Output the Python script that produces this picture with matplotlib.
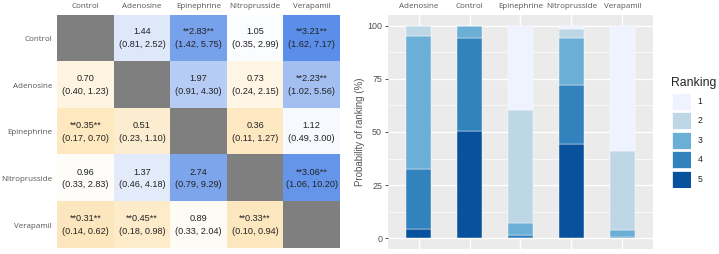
import numpy as np
import matplotlib
matplotlib.use("Agg")
import matplotlib.pyplot as plt
from matplotlib.colors import LinearSegmentedColormap, TwoSlopeNorm
from matplotlib.patches import Rectangle

# ---- heatmap data (row treatment vs column treatment) ----
treatments = ['Control', 'Adenosine', 'Epinephrine', 'Nitroprusside', 'Verapamil']
est = [[np.nan, 1.44, 2.83, 1.05, 3.21],
       [0.70, np.nan, 1.97, 0.73, 2.23],
       [0.35, 0.51, np.nan, 0.36, 1.12],
       [0.96, 1.37, 2.74, np.nan, 3.06],
       [0.31, 0.45, 0.89, 0.33, np.nan]]
lower = [[np.nan, 0.81, 1.42, 0.35, 1.62],
         [0.40, np.nan, 0.91, 0.24, 1.02],
         [0.17, 0.23, np.nan, 0.11, 0.49],
         [0.33, 0.46, 0.79, np.nan, 1.06],
         [0.14, 0.18, 0.33, 0.10, np.nan]]
upper = [[np.nan, 2.52, 5.75, 2.99, 7.17],
         [1.23, np.nan, 4.30, 2.15, 5.56],
         [0.70, 1.10, np.nan, 1.27, 3.00],
         [2.83, 4.18, 9.29, np.nan, 10.20],
         [0.62, 0.98, 2.04, 0.94, np.nan]]

# ---- ranking probabilities (%) ----
bar_drugs = ['Adenosine', 'Control', 'Epinephrine', 'Nitroprusside', 'Verapamil']
rank_labels = ['1', '2', '3', '4', '5']
rank1 = [0.2, 0.0, 39.5, 1.6, 58.8]
rank2 = [4.6, 0.0, 53.5, 4.2, 37.5]
rank3 = [62.7, 5.9, 5.6, 22.3, 3.2]
rank4 = [28.0, 43.5, 1.1, 27.4, 0.3]
rank5 = [4.5, 50.6, 0.3, 44.5, 0.2]
rank_colors = ['#EFF3FF', '#BDD7E7', '#6BAED6', '#3182BD', '#08519C']

label_font = 'Open Sans'
num_font = 'Liberation Sans'
W, H = 719, 254

fig = plt.figure(figsize=(7.19, 2.54), dpi=100)

# ---------------- heatmap ----------------
ax1 = fig.add_axes([0.0793, 0.0217, 0.3936, 0.9193])
E = np.array(est)
cmap = LinearSegmentedColormap.from_list('or', ['#FCDCA0', '#FFFFFF', '#5B8EE8'])
cmap.set_bad('#7F7F7F')
norm = TwoSlopeNorm(vmin=0.0, vcenter=1.0, vmax=3.21)
ax1.imshow(np.ma.masked_invalid(E), cmap=cmap, norm=norm, aspect='auto')
n = len(treatments)
for i in range(n):
    for j in range(n):
        if np.isnan(E[i, j]):
            continue
        sig = lower[i][j] > 1 or upper[i][j] < 1
        s = f'{est[i][j]:.2f}'
        if sig:
            s = '**' + s + '**'
        txt = s + '\n' + f'({lower[i][j]:.2f}, {upper[i][j]:.2f})'
        ax1.text(j, i, txt, ha='center', va='center', fontsize=6.6,
                 family=num_font, color='#222222', linespacing=1.55)
ax1.set_xticks(range(n))
ax1.set_xticklabels(treatments, family=label_font, fontsize=5.8, color='#555555')
ax1.set_yticks(range(n))
ax1.set_yticklabels(treatments, family=label_font, fontsize=5.8, color='#555555')
ax1.xaxis.tick_top()
ax1.tick_params(length=0, pad=3.5)
for sp in ax1.spines.values():
    sp.set_visible(False)

# ---------------- stacked bars ----------------
ax2 = fig.add_axes([0.5396, 0.0197, 0.3686, 0.9213])
ax2.set_facecolor('#EBEBEB')
x = np.arange(1, len(bar_drugs) + 1)
stack = [rank5, rank4, rank3, rank2, rank1]
stack_cols = rank_colors[::-1]
bottom = np.zeros(len(bar_drugs))
for vals, col in zip(stack, stack_cols):
    ax2.bar(x, vals, width=0.5, bottom=bottom, color=col, edgecolor='white',
            linewidth=0.3, zorder=3)
    bottom += np.array(vals)
ax2.set_xlim(0.4, 5.6)
ax2.set_ylim(-5, 105)
ax2.set_yticks([0, 25, 50, 75, 100])
ax2.set_yticks([12.5, 37.5, 62.5, 87.5], minor=True)
ax2.set_xticks(x)
ax2.set_xticklabels(bar_drugs, family=label_font, fontsize=5.8, color='#555555')
ax2.xaxis.tick_top()
ax2.tick_params(axis='x', length=0, pad=3.5)
ax2.tick_params(axis='y', which='major', length=2.2, width=0.6, color='#333333',
                labelsize=6.4, labelcolor='#4D4D4D', pad=2)
ax2.tick_params(axis='y', which='minor', length=0)
for lab in ax2.get_yticklabels():
    lab.set_family(num_font)
ax2.grid(which='major', color='white', linewidth=1.0, zorder=0)
ax2.grid(which='minor', axis='y', color='white', linewidth=0.5, zorder=0)
ax2.set_axisbelow(True)
for sp in ax2.spines.values():
    sp.set_visible(False)
ax2.set_ylabel('Probability of ranking (%)', family=num_font, fontsize=7,
               color='#555555')
ax2.yaxis.set_label_coords(-0.088, 0.5)

# ---------------- legend ----------------
lax = fig.add_axes([672 / W, 1 - 188 / H, 19 / W, 95 / H])
lax.set_xlim(0, 1)
lax.set_ylim(95, 0)
lax.axis('off')
for k, (lab, col) in enumerate(zip(rank_labels, rank_colors)):
    y0 = k * 19.45
    lax.add_patch(Rectangle((0, y0), 1, 17, facecolor=col, edgecolor='white',
                            linewidth=0.5))
    lax.text(1.35, y0 + 8.5, lab, ha='left', va='center', fontsize=6.2,
             family=num_font, color='#222222')
fig.text(671 / W, 1 - 83 / H, 'Ranking', ha='left', va='center', fontsize=8.8,
         family=num_font, color='#222222')

fig.savefig('out.png', dpi=100)
